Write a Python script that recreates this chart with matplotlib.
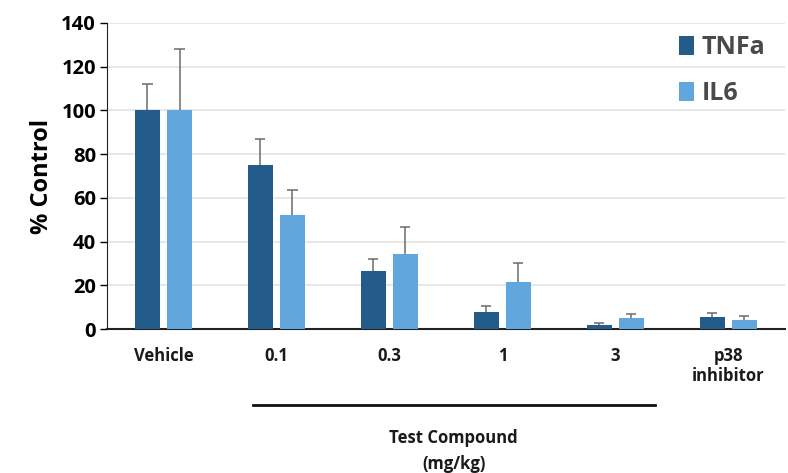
import numpy as np
import matplotlib
matplotlib.use('Agg')
import matplotlib.pyplot as plt
import matplotlib.transforms as mtransforms

plt.rcParams['font.family'] = ['Open Sans', 'DejaVu Sans']

# data
groups = ['Vehicle', '0.1', '0.3', '1', '3', 'p38\ninhibitor']
tnfa = [100, 75, 26.5, 8, 2, 5.6]
tnfa_err = [12, 12, 5.5, 2.5, 0.7, 1.9]
il6 = [100, 52, 34.5, 21.5, 5.2, 4.1]
il6_err = [28, 11.8, 12, 8.5, 1.5, 1.8]

c_tnf = '#235b8a'
c_il6 = '#61a6dc'

fig = plt.figure(figsize=(7.88, 4.73), dpi=100)
ax = fig.add_axes([0.1358, 0.3044, 0.86, 0.647])

x = np.arange(len(groups))
w = 0.22
off = 0.142

ax.bar(x - off, tnfa, w, color=c_tnf, label='TNFa', zorder=3)
ax.bar(x + off, il6, w, color=c_il6, label='IL6', zorder=3)

# upper-only error bars
for xs, vals, errs in [(x - off, tnfa, tnfa_err), (x + off, il6, il6_err)]:
    tops = np.array(vals) + np.array(errs)
    ax.vlines(xs, vals, tops, color='#6b6b6b', lw=1.1, zorder=4)
    ax.hlines(tops, xs - 0.045, xs + 0.045, color='#6b6b6b', lw=1.1, zorder=4)

ax.set_xlim(-0.5, 5.5)
ax.set_ylim(0, 140)
ax.set_yticks(range(0, 141, 20))
ax.yaxis.grid(True, color='#e3e3e3', lw=1.2, zorder=0)
ax.set_axisbelow(True)

for s in ['top', 'right']:
    ax.spines[s].set_visible(False)
ax.spines['left'].set_color('#222222')
ax.spines['bottom'].set_color('#222222')
ax.spines['bottom'].set_linewidth(1.5)
ax.tick_params(axis='y', length=5, width=1, labelsize=14.5, pad=3)
ax.tick_params(axis='x', length=0, labelsize=12, pad=13)
for lab in ax.get_yticklabels():
    lab.set_fontweight('bold')
ax.set_xticks(x)
ax.set_xticklabels(groups, fontweight='bold', color='#1a1a1a', linespacing=1.15)
ax.set_ylabel('% Control', fontsize=17, fontweight='bold', labelpad=5)

leg = ax.legend(loc='upper right', bbox_to_anchor=(1.005, 1.035), frameon=False,
                fontsize=18, handlelength=0.6, handleheight=0.8,
                handletextpad=0.3, labelspacing=0.85)
for t in leg.get_texts():
    t.set_color('#4a4a4a')
    t.set_fontweight('bold')

# bracket under the test compound doses
trans = mtransforms.blended_transform_factory(ax.transData, ax.transAxes)
ax.plot([0.79, 4.35], [-0.248, -0.248], color='#111111', lw=2,
        transform=trans, clip_on=False)
ax.text(2.57, -0.355, 'Test Compound', transform=trans, ha='center',
        va='center', fontsize=12, fontweight='bold', color='#1a1a1a')
ax.text(2.57, -0.44, '(mg/kg)', transform=trans, ha='center',
        va='center', fontsize=12, fontweight='bold', color='#1a1a1a')

fig.savefig('out.png', dpi=100)
